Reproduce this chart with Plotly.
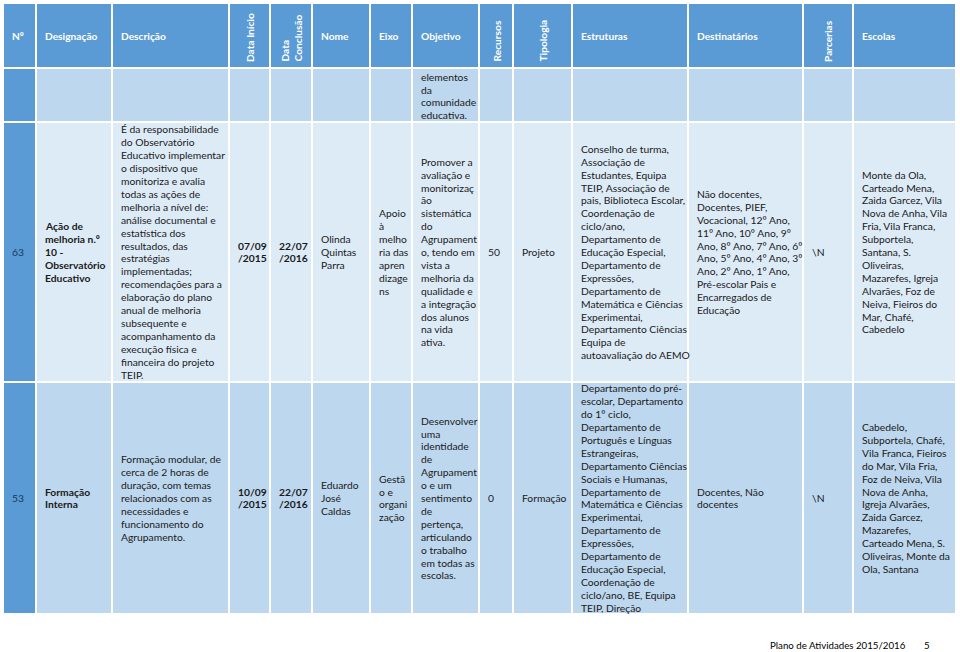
import plotly.graph_objects as go

# ---------------- data ----------------
headers = ["Nº", "Designação", "Descrição", "Data Início", "Data<br>Conclusão", "Nome", "Eixo",
           "Objetivo", "Recursos", "Tipologia", "Estruturas", "Destinatários", "Parcerias", "Escolas"]
header_rotated = [False, False, False, True, True, False, False, False, True, True, False, False, True, False]

numero = ["63", "53"]
designacao = ["Ação de|melhoria n.º|10 -|Observatório|Educativo",
              "Formação|Interna"]
descricao = ["É da responsabilidade|do Observatório|Educativo implementar|o dispositivo que|"
             "monitoriza e avalia|todas as ações de|melhoria a nível de:|análise documental e|"
             "estatística dos|resultados, das|estratégias|implementadas;|recomendações para a|"
             "elaboração do plano|anual de melhoria|subsequente e|acompanhamento da|"
             "execução física e|financeira do projeto|TEIP.",
             "Formação modular, de|cerca de 2 horas de|duração, com temas|relacionados com as|"
             "necessidades e|funcionamento do|Agrupamento."]
data_inicio = ["07/09|/2015", "10/09|/2015"]
data_conclusao = ["22/07|/2016", "22/07|/2016"]
nome = ["Olinda|Quintas|Parra", "Eduardo|José|Caldas"]
eixo = ["Apoio|à|melho|ria das|apren|dizage|ns", "Gestã|o e|organi|zação"]
objetivo_prev = "elementos|da|comunidade|educativa."
objetivo = ["Promover a|avaliação e|monitorizaç|ão|sistemática|do|Agrupament|"
            "o, tendo em|vista a|melhoria da|qualidade e|a integração|dos alunos|na vida|ativa.",
            "Desenvolver|uma|identidade|de|Agrupament|o e um|sentimento|de|"
            "pertença,|articulando|o trabalho|em todas as|escolas."]
recursos = ["50", "0"]
tipologia = ["Projeto", "Formação"]
estruturas = ["Conselho de turma,|Associação de|Estudantes, Equipa|TEIP, Associação de|"
              "pais, Biblioteca Escolar,|Coordenação de|ciclo/ano,|Departamento de|"
              "Educação Especial,|Departamento de|Expressões,|Departamento de|"
              "Matemática e Ciências|Experimentai,|Departamento Ciências|Equipa de|"
              "autoavaliação do AEMO",
              "Departamento do pré-|escolar, Departamento|do 1º ciclo,|Departamento de|"
              "Português e Línguas|Estrangeiras,|Departamento Ciências|Sociais e Humanas,|"
              "Departamento de|Matemática e Ciências|Experimentai,|Departamento de|"
              "Expressões,|Departamento de|Educação Especial,|Coordenação de|"
              "ciclo/ano, BE, Equipa|TEIP, Direção"]
destinatarios = ["Não docentes,|Docentes, PIEF,|Vocacional, 12º Ano,|11º Ano, 10º Ano, 9º|"
                 "Ano, 8º Ano, 7º Ano, 6º|Ano, 5º Ano, 4º Ano, 3º|Ano, 2º Ano, 1º Ano,|"
                 "Pré-escolar Pais e|Encarregados de|Educação",
                 "Docentes, Não|docentes"]
parcerias = ["\\N", "\\N"]
escolas = ["Monte da Ola,|Carteado Mena,|Zaida Garcez, Vila|Nova de Anha, Vila|"
           "Fria, Vila Franca,|Subportela,|Santana, S.|Oliveiras,|Mazarefes, Igreja|"
           "Alvarães, Foz de|Neiva, Fieiros do|Mar, Chafé,|Cabedelo",
           "Cabedelo,|Subportela, Chafé,|Vila Franca, Fieiros|do Mar, Vila Fria,|"
           "Foz de Neiva, Vila|Nova de Anha,|Igreja Alvarães,|Zaida Garcez,|Mazarefes,|"
           "Carteado Mena, S.|Oliveiras, Monte da|Ola, Santana"]
footer_title = "Plano de Atividades 2015/2016"
footer_page = "5"

columns = [numero, designacao, descricao, data_inicio, data_conclusao, nome, eixo,
           objetivo, recursos, tipologia, estruturas, destinatarios, parcerias, escolas]

# ---------------- layout / style ----------------
col_edges = [3, 36, 112, 229, 270, 312, 370, 412, 479, 513, 572, 688, 803, 853, 956]
row_edges = [3, 68, 122, 382, 614]  # header, continuation row, row 63, row 53
bold_cols = {1, 3, 4}
BODY_SIZE = 10.3
col_font = {}
LINE = 12.9
PAD = 7
HEADER_BLUE = "#5B9BD5"
ROW_FILLS = ["#BDD7EE", "#DDEBF7", "#BDD7EE"]
FONT = "Lato, 'Open Sans', sans-serif"
TXT = "#1a1a1a"

fig = go.Figure()
shapes = []
annotations = []


def cell(x0, x1, y0, y1, color):
    shapes.append(dict(type="rect", xref="x", yref="y", x0=x0, x1=x1, y0=y0, y1=y1,
                       fillcolor=color, line=dict(color="white", width=2), layer="below"))


def block(text, x, yc, size, color, bold=False):
    lines = text.split("|")
    n = len(lines)
    for k, ln in enumerate(lines):
        t = "<b>%s</b>" % ln if bold else ln
        annotations.append(dict(x=x, y=yc + (k - (n - 1) / 2) * LINE, xref="x", yref="y",
                                text=t, showarrow=False, xanchor="left", yanchor="middle",
                                align="left", font=dict(family=FONT, size=size, color=color)))


# header
for c, h in enumerate(headers):
    x0, x1 = col_edges[c], col_edges[c + 1]
    cell(x0, x1, row_edges[0], row_edges[1], HEADER_BLUE)
    if header_rotated[c]:
        annotations.append(dict(x=(x0 + x1) / 2, y=row_edges[1] - 4, xref="x", yref="y",
                                text="<b>%s</b>" % h, textangle=-90, showarrow=False,
                                xanchor="center", yanchor="bottom", align="left",
                                font=dict(family=FONT, size=10.2, color="white")))
    else:
        annotations.append(dict(x=x0 + PAD, y=(row_edges[0] + row_edges[1]) / 2, xref="x", yref="y",
                                text="<b>%s</b>" % h, showarrow=False,
                                xanchor="left", yanchor="middle", align="left",
                                font=dict(family=FONT, size=10.2, color="white")))

# body cells
for r in range(3):
    y0, y1 = row_edges[r + 1], row_edges[r + 2]
    for c in range(len(headers)):
        x0, x1 = col_edges[c], col_edges[c + 1]
        cell(x0, x1, y0, y1, HEADER_BLUE if c == 0 else ROW_FILLS[r])

# continuation text of previous record
block(objetivo_prev, col_edges[7] + PAD, (row_edges[1] + row_edges[2]) / 2 + 1, BODY_SIZE, TXT)

for i in range(2):
    y0, y1 = row_edges[i + 2], row_edges[i + 3]
    yc = (y0 + y1) / 2
    for c, col in enumerate(columns):
        color = "#17375E" if c == 0 else TXT
        block(col[i], col_edges[c] + PAD, yc, col_font.get(c, BODY_SIZE), color, bold=(c in bold_cols))

annotations.append(dict(x=768, y=645, xref="x", yref="y", text=footer_title, showarrow=False,
                        xanchor="left", yanchor="middle", font=dict(family=FONT, size=9.7, color="black")))
annotations.append(dict(x=922, y=645, xref="x", yref="y", text=footer_page, showarrow=False,
                        xanchor="left", yanchor="middle", font=dict(family=FONT, size=9.7, color="black")))

fig.update_layout(width=960, height=652, margin=dict(l=0, r=0, t=0, b=0),
                  paper_bgcolor="white", plot_bgcolor="white",
                  xaxis=dict(range=[0, 960], visible=False, fixedrange=True),
                  yaxis=dict(range=[652, 0], visible=False, fixedrange=True),
                  shapes=shapes, annotations=annotations, showlegend=False)

fig.write_html("out.html", config={"displayModeBar": False},
               post_script="document.body.style.margin='0';document.body.style.overflow='hidden';")
